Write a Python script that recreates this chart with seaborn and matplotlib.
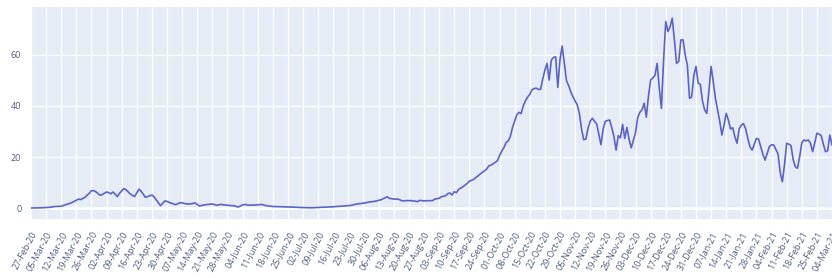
import numpy as np
import pandas as pd
import matplotlib
matplotlib.use("Agg")
import matplotlib.pyplot as plt
import seaborn as sns

# ---- data ----
start_date = "2020-02-27"
day_offset = [
    0, 5, 9, 11, 14, 16, 18, 20, 22, 23, 25, 27, 28, 29, 30, 32, 33, 35, 36, 37,
    38, 39, 40, 41, 43, 44, 46, 48, 50, 51, 53, 54, 56, 57, 58, 60, 62, 63, 64, 67,
    69, 70, 72, 74, 76, 78, 80, 82, 84, 86, 88, 90, 92, 94, 96, 98, 99, 101, 104, 107,
    109, 112, 116, 120, 125, 130, 135, 140, 145, 148, 151, 154, 157, 159, 161, 162, 163, 165, 166, 168,
    170, 172, 174, 176, 178, 179, 180, 182, 184, 186, 187, 189, 190, 192, 193, 194, 195, 196, 197, 198,
    200, 202, 203, 205, 207, 208, 210, 211, 212, 213, 214, 216, 217, 218, 219, 220, 221, 222, 223, 224,
    225, 226, 227, 228, 229, 230, 231, 232, 233, 234, 235, 236, 237, 238, 239, 240, 241, 242, 243, 244,
    245, 246, 247, 248, 249, 250, 251, 252, 253, 254, 255, 256, 257, 258, 259, 260, 261, 262, 263, 264,
    265, 266, 267, 268, 269, 270, 271, 272, 273, 274, 275, 276, 277, 278, 279, 280, 281, 282, 283, 284,
    285, 286, 287, 288, 289, 290, 291, 292, 293, 294, 295, 296, 297, 298, 299, 300, 301, 302, 303, 304,
    305, 306, 307, 308, 309, 310, 311, 312, 313, 314, 315, 316, 317, 318, 319, 320, 321, 322, 323, 324,
    325, 326, 327, 328, 329, 330, 331, 332, 333, 334, 335, 336, 337, 338, 339, 340, 341, 342, 343, 344,
    345, 346, 347, 348, 349, 350, 351, 352, 353, 354, 355, 356, 357, 358, 359, 360, 361, 362, 363, 364,
    365, 366, 367, 368, 369, 370, 371, 372, 373,
]
value = [
    0.0, 0.1, 0.3, 0.6, 0.7, 1.3, 1.8, 2.6, 3.5, 3.3, 4.2, 5.8, 6.8, 6.8, 6.4, 5.0, 5.3, 6.3, 6.0, 5.6,
    6.3, 5.4, 4.5, 5.8, 7.6, 7.2, 5.5, 4.5, 7.4, 6.6, 4.2, 4.5, 5.1, 4.4, 3.2, 0.9, 2.8, 2.6, 2.2, 1.3,
    2.1, 2.0, 1.6, 1.6, 2.0, 0.8, 1.2, 1.4, 1.6, 1.1, 1.4, 1.2, 1.0, 0.9, 0.4, 1.2, 1.4, 1.1, 1.2, 1.4,
    0.9, 0.6, 0.5, 0.4, 0.2, 0.1, 0.3, 0.5, 0.8, 1.0, 1.6, 1.9, 2.4, 2.6, 3.0, 3.2, 3.6, 4.4, 3.8, 3.5,
    3.5, 2.8, 2.9, 2.9, 2.7, 2.5, 3.0, 2.8, 2.9, 2.9, 3.5, 3.8, 4.4, 4.8, 5.6, 5.9, 5.1, 6.4, 6.0, 7.3,
    8.3, 9.6, 10.5, 11.2, 12.6, 13.3, 14.6, 15.2, 16.5, 16.8, 17.3, 18.5, 20.5, 22.3, 23.6, 25.6, 26.3, 28.0, 31.5, 34.0,
    36.5, 37.5, 37.0, 40.0, 42.0, 43.5, 44.5, 46.3, 46.8, 47.0, 46.5, 46.5, 50.5, 54.0, 56.7, 50.2, 58.0, 59.0, 59.3, 47.3,
    58.0, 63.5, 57.0, 50.0, 48.0, 45.6, 43.6, 42.0, 40.5, 37.0, 31.0, 26.8, 27.0, 31.3, 34.0, 35.2, 34.0, 33.0, 29.0, 24.8,
    31.0, 34.0, 34.3, 34.5, 31.5, 28.0, 22.7, 28.4, 27.5, 32.8, 27.3, 31.6, 27.0, 23.6, 26.5, 29.5, 35.5, 37.5, 38.5, 41.1,
    35.6, 44.0, 50.2, 51.0, 52.0, 56.7, 47.0, 39.1, 58.0, 73.1, 69.2, 71.0, 74.4, 66.0, 56.7, 57.5, 65.9, 65.9, 60.0, 56.1,
    43.0, 43.5, 52.0, 55.5, 49.0, 48.5, 42.0, 38.5, 37.1, 46.0, 55.5, 49.5, 43.0, 38.5, 34.0, 28.6, 32.5, 37.1, 34.5, 31.0,
    31.5, 28.0, 25.4, 31.0, 32.5, 33.1, 31.0, 27.3, 24.0, 22.7, 25.0, 27.3, 27.0, 24.0, 21.0, 18.8, 21.5, 24.1, 24.8, 24.7,
    23.0, 21.2, 14.0, 10.3, 17.0, 25.4, 25.0, 24.5, 19.0, 16.2, 15.6, 20.0, 25.5, 26.7, 26.3, 26.7, 25.5, 22.1, 25.5, 29.3,
    29.0, 28.4, 25.0, 22.1, 22.5, 28.6, 24.7, 27.0, 28.0,
]
tick_first = "2020-02-27"
tick_last = "2021-03-04"
y_ticks = [0, 20, 40, 60]

df = pd.DataFrame({
    "date": pd.to_datetime(start_date) + pd.to_timedelta(day_offset, unit="D"),
    "value": value,
})

sns.set_style("darkgrid", {
    "axes.facecolor": "#E5ECF6",
    "grid.color": "white",
    "axes.edgecolor": "#E5ECF6",
})
plt.rcParams["font.family"] = ["Open Sans", "DejaVu Sans"]

W, H = 832, 278
fig = plt.figure(figsize=(W / 100, H / 100), dpi=100)
px_per_day = 801 / 371.0
x_end_day = 373
left, right_px, top, bottom = 31, 31 + x_end_day * px_per_day, 7, 219
ax = fig.add_axes([left / W, 1 - bottom / H, (right_px - left) / W, (bottom - top) / H])

sns.lineplot(data=df, x="date", y="value", ax=ax, color="#5a64c8", linewidth=1.2)

ax.set_xlim(pd.Timestamp(start_date), pd.Timestamp(start_date) + pd.Timedelta(days=x_end_day))
ax.set_ylim(-4.3, 78.8)

ticks = pd.date_range(tick_first, tick_last, freq="7D")
ax.set_xticks(ticks)
ax.set_xticklabels([t.strftime("%d-%b-%y") for t in ticks], rotation=62, ha="right",
                   rotation_mode="anchor", fontsize=6.5, color="#4f5d7c")
ax.set_yticks(y_ticks)
ax.set_yticklabels([str(v) for v in y_ticks], fontsize=6.5, color="#4f5d7c")
ax.tick_params(axis="x", length=4, width=0.7, color="#999999", direction="out", pad=4)
ax.tick_params(axis="y", length=0, pad=7)
ax.grid(True, color="white", linewidth=0.9)
ax.axhline(0, color="white", linewidth=1.8, zorder=1)
ax.set_xlabel("")
ax.set_ylabel("")
for s in ax.spines.values():
    s.set_visible(False)

fig.savefig("out.png", dpi=100)
